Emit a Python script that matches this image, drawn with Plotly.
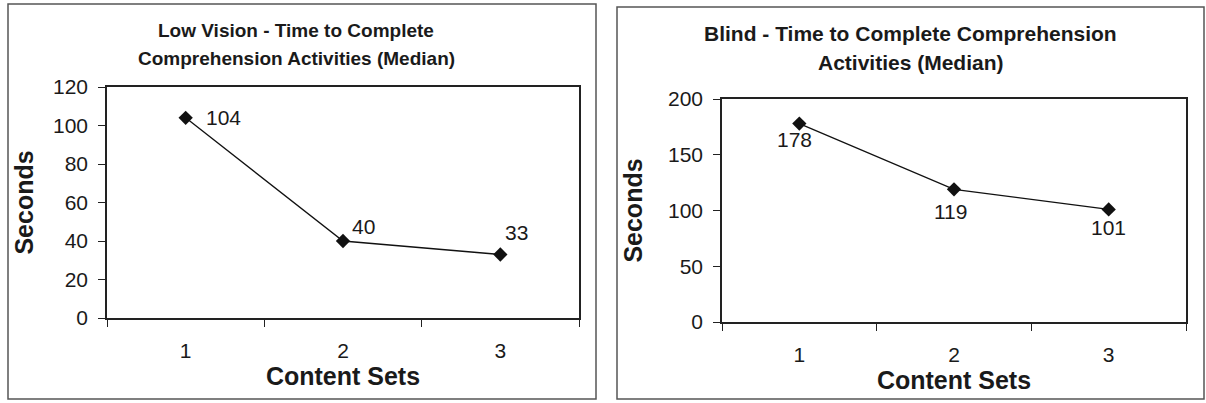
import plotly.graph_objects as go

# ---- data ----
content_sets = [1, 2, 3]
low_vision_seconds = [104, 40, 33]
blind_seconds = [178, 119, 101]
low_vision_title = ["Low Vision - Time to Complete", "Comprehension Activities (Median)"]
blind_title = ["Blind - Time to Complete Comprehension", "Activities (Median)"]
x_title = "Content Sets"
y_title = "Seconds"
low_vision_yticks = [0, 20, 40, 60, 80, 100, 120]
blind_yticks = [0, 50, 100, 150, 200]

W, H = 1206, 403
FONT = "Liberation Sans, Arial, sans-serif"
INK = "#1a1a1a"

def px(x):
    return x / W

def py(y):
    return 1 - y / H

fig = go.Figure()

for vals, xa, ya in [(low_vision_seconds, "x", "y"), (blind_seconds, "x2", "y2")]:
    fig.add_trace(go.Scatter(
        x=content_sets, y=vals, mode="lines+markers",
        line=dict(color="#111", width=1.3),
        marker=dict(symbol="diamond", size=11, color="#111"),
        xaxis=xa, yaxis=ya, showlegend=False,
    ))

# data label offsets (pixels): style only
lv_shift = [(38, 0), (20, 15), (16, 22)]
bl_shift = [(-5, -16), (-4, -22), (0, -18)]

annotations = []
for c, v, (dx, dy) in zip(content_sets, low_vision_seconds, lv_shift):
    annotations.append(dict(x=c, y=v, xref="x", yref="y", text=str(v), showarrow=False,
                            xshift=dx, yshift=dy, xanchor="center", yanchor="middle",
                            font=dict(family=FONT, size=21, color=INK)))
for c, v, (dx, dy) in zip(content_sets, blind_seconds, bl_shift):
    annotations.append(dict(x=c, y=v, xref="x2", yref="y2", text=str(v), showarrow=False,
                            xshift=dx, yshift=dy, xanchor="center", yanchor="middle",
                            font=dict(family=FONT, size=21, color=INK)))

for i, line in enumerate(low_vision_title):
    annotations.append(dict(text=f"<b>{line}</b>", x=px(296), y=py(31 + 27 * i),
                            xref="paper", yref="paper", showarrow=False,
                            xanchor="center", yanchor="middle",
                            font=dict(family=FONT, size=19, color=INK)))
for i, line in enumerate(blind_title):
    annotations.append(dict(text=f"<b>{line}</b>", x=px(911), y=py(33 + 29 * i),
                            xref="paper", yref="paper", showarrow=False,
                            xanchor="center", yanchor="middle",
                            font=dict(family=FONT, size=21, color=INK)))


def xaxis(domain, anchor):
    return dict(
        domain=domain, anchor=anchor, range=[0.5, 3.5], automargin=False,
        tickvals=content_sets, ticktext=[str(c) for c in content_sets],
        ticks="", showgrid=False, zeroline=False,
        showline=True, mirror=True, linecolor="#222", linewidth=1.5,
        tickfont=dict(family=FONT, size=21, color=INK),
        ticklabelstandoff=13,
        minor=dict(tickvals=[0.5, 1.5, 2.5, 3.5], ticks="outside", ticklen=7,
                   tickcolor="#222", tickwidth=1, showgrid=False),
        title=dict(text=f"<b>{x_title}</b>", font=dict(family=FONT, size=25, color=INK), standoff=2),
    )


def yaxis(domain, anchor, rng, ticks, standoff):
    return dict(
        domain=domain, anchor=anchor, range=rng, tickvals=ticks, automargin=False,
        ticks="outside", ticklen=7, tickcolor="#222", tickwidth=1,
        showgrid=False, zeroline=False,
        showline=True, mirror=True, linecolor="#222", linewidth=1.5,
        tickfont=dict(family=FONT, size=21, color=INK),
        ticklabelstandoff=6,
        title=dict(text=f"<b>{y_title}</b>", font=dict(family=FONT, size=25, color=INK), standoff=standoff),
    )


shapes = [
    dict(type="rect", xref="paper", yref="paper", x0=px(8), x1=px(596), y0=py(399), y1=py(4),
         line=dict(color="#555", width=1.5)),
    dict(type="rect", xref="paper", yref="paper", x0=px(617), x1=px(1204), y0=py(399), y1=py(7),
         line=dict(color="#555", width=1.5)),
]

fig.update_layout(
    width=W, height=H, margin=dict(l=0, r=0, t=0, b=0, pad=0, autoexpand=False),
    paper_bgcolor="white", plot_bgcolor="white",
    font=dict(family=FONT, color=INK),
    xaxis=xaxis([px(107), px(579)], "y"),
    yaxis=yaxis([py(318), py(87)], "x", [0, 120], low_vision_yticks, 12),
    xaxis2=xaxis([px(722), px(1186)], "y2"),
    yaxis2=yaxis([py(322), py(99)], "x2", [0, 200], blind_yticks, 18),
    annotations=annotations, shapes=shapes,
)

fig.write_html("out.html")
